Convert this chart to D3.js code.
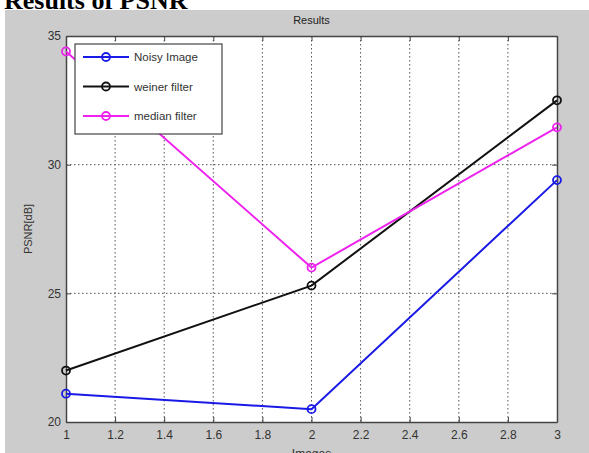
<!DOCTYPE html>
<html>
<head>
<meta charset="utf-8">
<script src="https://cdn.jsdelivr.net/npm/d3@7"></script>
<style>
  body { margin: 0; background: #fff; }
  svg { display: block; }
</style>
</head>
<body>
<script>
const images = [1, 2, 3];
const noisyImage = [21.1, 20.5, 29.4];
const weinerFilter = [22.0, 25.3, 32.5];
const medianFilter = [34.4, 26.0, 31.45];
const seriesNames = ["Noisy Image", "weiner filter", "median filter"];
const seriesColors = ["#1a1ae6", "#111111", "#ee22ee"];
const xTicks = [1, 1.2, 1.4, 1.6, 1.8, 2, 2.2, 2.4, 2.6, 2.8, 3];
const yTicks = [20, 25, 30, 35];

const width = 589;
const height = 453;
const marginLeft = 66;
const marginRight = 32;
const marginTop = 36;
const marginBottom = 31;

const x = d3.scaleLinear().domain([1, 3]).range([marginLeft, width - marginRight]);
const y = d3.scaleLinear().domain([20, 35]).range([height - marginBottom, marginTop]);

const svg = d3.create("svg")
    .attr("width", width)
    .attr("height", height)
    .attr("viewBox", `0 0 ${width} ${height}`);

// page title (cut off at the top)
svg.append("text")
    .attr("x", 4)
    .attr("y", 9)
    .style("font-family", "Liberation Serif, Times New Roman, serif")
    .style("font-weight", "bold")
    .style("font-size", "26px")
    .attr("fill", "#000")
    .text("Results of PSNR");

// figure background
svg.append("rect")
    .attr("x", 5)
    .attr("y", 10)
    .attr("width", width - 5)
    .attr("height", height - 10)
    .attr("fill", "#cccccc");

// axes area
svg.append("rect")
    .attr("x", x(1))
    .attr("y", y(35))
    .attr("width", x(3) - x(1))
    .attr("height", y(20) - y(35))
    .attr("fill", "#fff");

// grid
svg.append("g")
    .selectAll("line")
    .data(xTicks.slice(1, -1))
    .join("line")
    .attr("x1", d => x(d)).attr("x2", d => x(d))
    .attr("y1", y(35)).attr("y2", y(20))
    .attr("stroke", "#555")
    .attr("stroke-width", 1)
    .attr("stroke-dasharray", "1.5,2.5");

svg.append("g")
    .selectAll("line")
    .data(yTicks.slice(1, -1))
    .join("line")
    .attr("x1", x(1)).attr("x2", x(3))
    .attr("y1", d => y(d)).attr("y2", d => y(d))
    .attr("stroke", "#555")
    .attr("stroke-width", 1)
    .attr("stroke-dasharray", "1.5,2.5");

// axes
const fontAxis = "Liberation Sans, Arial, sans-serif";

const xAxis = svg.append("g")
    .attr("transform", `translate(0,${y(20)})`)
    .call(d3.axisBottom(x).tickValues(xTicks).tickFormat(d3.format("~g"))
        .tickSizeInner(-5).tickSizeOuter(0).tickPadding(8));

const yAxis = svg.append("g")
    .attr("transform", `translate(${x(1)},0)`)
    .call(d3.axisLeft(y).tickValues(yTicks).tickFormat(d3.format("~g"))
        .tickSizeInner(-5).tickSizeOuter(0).tickPadding(5));

const xAxisTop = svg.append("g")
    .attr("transform", `translate(0,${y(35)})`)
    .call(d3.axisTop(x).tickValues(xTicks).tickFormat("")
        .tickSizeInner(-5).tickSizeOuter(0));

const yAxisRight = svg.append("g")
    .attr("transform", `translate(${x(3)},0)`)
    .call(d3.axisRight(y).tickValues(yTicks).tickFormat("")
        .tickSizeInner(-5).tickSizeOuter(0));

[xAxis, yAxis, xAxisTop, yAxisRight].forEach(g => {
    g.select(".domain").attr("stroke", "#444").attr("stroke-width", 1.5);
    g.selectAll(".tick line").attr("stroke", "#444");
    g.selectAll(".tick text")
        .style("font-family", fontAxis)
        .style("font-size", "12px")
        .attr("fill", "#333");
});

// titles
svg.append("text")
    .attr("x", (x(1) + x(3)) / 2)
    .attr("y", 24)
    .attr("text-anchor", "middle")
    .style("font-family", fontAxis)
    .style("font-size", "11px")
    .attr("fill", "#222")
    .text("Results");

svg.append("text")
    .attr("x", (x(1) + x(3)) / 2)
    .attr("y", 458)
    .attr("text-anchor", "middle")
    .style("font-family", fontAxis)
    .style("font-size", "12px")
    .attr("fill", "#333")
    .text("Images");

svg.append("text")
    .attr("transform", `translate(32,${(y(20) + y(35)) / 2}) rotate(-90)`)
    .attr("text-anchor", "middle")
    .style("font-family", fontAxis)
    .style("font-size", "11px")
    .attr("fill", "#333")
    .text("PSNR[dB]");

// series
const series = [noisyImage, weinerFilter, medianFilter].map((vals, i) => ({
    name: seriesNames[i],
    color: seriesColors[i],
    values: vals.map((v, j) => ({ x: images[j], y: v }))
}));

const line = d3.line().x(d => x(d.x)).y(d => y(d.y));

const gSeries = svg.append("g")
    .selectAll("g")
    .data(series)
    .join("g");

gSeries.append("path")
    .attr("d", d => line(d.values))
    .attr("fill", "none")
    .attr("stroke", d => d.color)
    .attr("stroke-width", 2);

gSeries.selectAll("circle")
    .data(d => d.values.map(v => ({ ...v, color: d.color })))
    .join("circle")
    .attr("cx", d => x(d.x))
    .attr("cy", d => y(d.y))
    .attr("r", 4)
    .attr("fill", "none")
    .attr("stroke", d => d.color)
    .attr("stroke-width", 1.8);

// legend
const legend = svg.append("g").attr("transform", "translate(75,44)");

legend.append("rect")
    .attr("width", 147)
    .attr("height", 90)
    .attr("fill", "#fff")
    .attr("stroke", "#444")
    .attr("stroke-width", 1.2);

const items = legend.selectAll(".item")
    .data(series)
    .join("g")
    .attr("class", "item")
    .attr("transform", (d, i) => `translate(0,${13 + i * 29.5})`);

items.append("line")
    .attr("x1", 8).attr("x2", 54)
    .attr("stroke", d => d.color)
    .attr("stroke-width", 2);

items.append("circle")
    .attr("cx", 31)
    .attr("r", 4)
    .attr("fill", "none")
    .attr("stroke", d => d.color)
    .attr("stroke-width", 1.8);

items.append("text")
    .attr("x", 59)
    .attr("dy", "0.35em")
    .style("font-family", fontAxis)
    .style("font-size", "11.5px")
    .attr("fill", "#333")
    .text(d => d.name);

document.body.appendChild(svg.node());
</script>
</body>
</html>
